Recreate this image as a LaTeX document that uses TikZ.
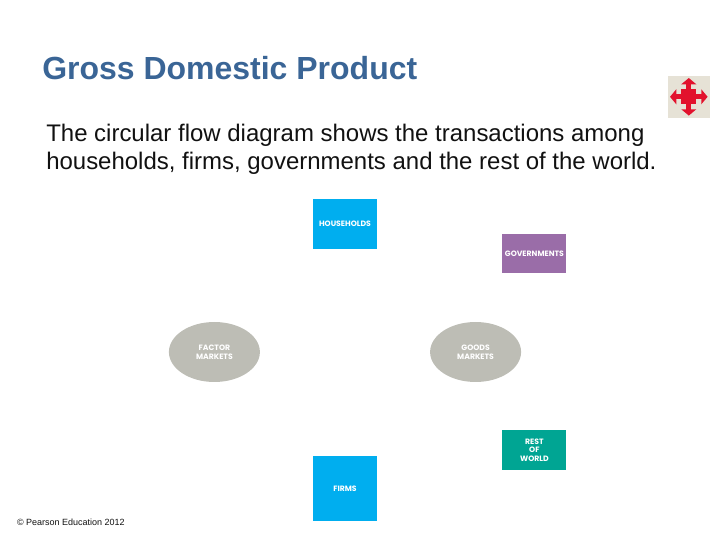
\documentclass[tikz,border=0pt]{standalone}
\usepackage{fontspec}
\setmainfont{Liberation Sans}
\newfontfamily\boxfont{Poppins}
\usetikzlibrary{arrows.meta}
\usetikzlibrary{shapes.geometric}
\definecolor{titleblue}{HTML}{3A6596}
\definecolor{bodyink}{HTML}{111111}
\definecolor{cyanbox}{HTML}{00AEEF}
\definecolor{purplebox}{HTML}{9A6DA8}
\definecolor{tealbox}{HTML}{00A593}
\definecolor{greymarket}{HTML}{BDBDB5}
\definecolor{iconback}{HTML}{E6E2D6}
\definecolor{iconred}{HTML}{E2122D}
\tikzset{
  boxlabel/.style={text=white, font=\boxfont\bfseries\fontsize{5.5}{6.2}\selectfont, align=center, inner sep=0pt},
  sector/.style={boxlabel, rectangle, minimum width=1.6cm},
  market/.style={boxlabel, ellipse, fill=greymarket, minimum width=2.275cm, minimum height=1.5cm},
  iconarrow/.style={iconred, line width=3.4pt, -{Triangle[length=4.5pt,width=10.5pt]}}
}
\begin{document}
\begin{tikzpicture}
\useasboundingbox (0, 0) rectangle (18, 13.5);
\node[anchor=base west, inner sep=0pt, text=titleblue, font=\bfseries\fontsize{22.75}{26}\selectfont](title) at (1.05, 11.51) {Gross Domestic Product};
\node[anchor=base west, inner sep=0pt, text=bodyink, font=\fontsize{17.05}{20.8}\selectfont](introa) at (1.15, 9.95) {The circular flow diagram shows the transactions among};
\node[anchor=base west, inner sep=0pt, text=bodyink, font=\fontsize{17.05}{20.8}\selectfont](introb) at (1.15, 9.25) {households, firms, governments and the rest of the world.};
\node[sector, fill=cyanbox, minimum height=1.25cm](households) at (8.625, 7.9) {\raisebox{-0.7pt}{HOUSEHOLDS}};
\node[sector, fill=purplebox, minimum height=0.975cm](governments) at (13.36, 7.16) {GOVERNMENTS};
\node[market](factor) at (5.36, 4.7) {FACTOR\\MARKETS};
\node[market](goods) at (11.89, 4.7) {GOODS\\MARKETS};
\node[sector, fill=tealbox, minimum height=0.985cm](world) at (13.36, 2.25) {REST\\OF\\WORLD};
\node[sector, fill=cyanbox, minimum height=1.625cm](firms) at (8.625, 1.29) {\raisebox{-2.4pt}{FIRMS}};
\node[anchor=base west, inner sep=0pt, text=bodyink, font=\fontsize{6.4}{8}\selectfont](credit) at (0.42, 0.36) {© Pearson Education 2012};
\node[rectangle, fill=iconback, minimum width=1.05cm, minimum height=1.05cm](icon) at (17.22, 11.08) {};
\fill[iconred] (icon.center) ++(-0.19, -0.19) rectangle ++(0.38, 0.38);
\draw[iconarrow] (icon.center) -- ++(0.47, 0);
\draw[iconarrow] (icon.center) -- ++(-0.47, 0);
\draw[iconarrow] (icon.center) -- ++(0, 0.47);
\draw[iconarrow] (icon.center) -- ++(0, -0.47);
\end{tikzpicture}
\end{document}
